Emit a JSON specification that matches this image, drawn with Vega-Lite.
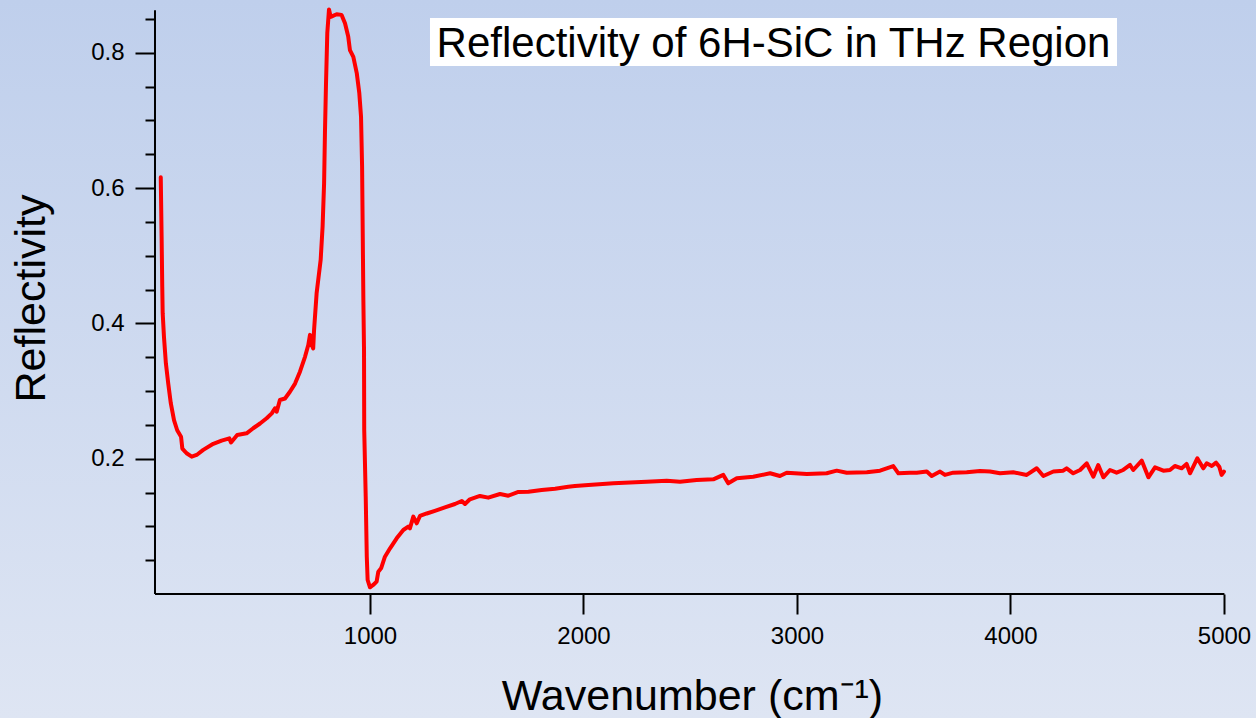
{
  "$schema": "https://vega.github.io/schema/vega-lite/v6.json",
  "width": 1256,
  "height": 718,
  "autosize": {"type": "none"},
  "padding": 0,
  "background": "#d0dbf0",
  "config": {
    "font": "Liberation Sans",
    "view": {
      "stroke": null,
      "fill": {
        "gradient": "linear",
        "x1": 0, "y1": 0, "x2": 0, "y2": 1,
        "stops": [
          {"offset": 0, "color": "#bfcfec"},
          {"offset": 1, "color": "#dee5f3"}
        ]
      }
    }
  },
  "datasets": {
    "spectrum": [
      {"w": 20, "r": 0.616}, {"w": 24, "r": 0.528}, {"w": 27, "r": 0.454}, {"w": 29, "r": 0.415},
      {"w": 35, "r": 0.38}, {"w": 44, "r": 0.341}, {"w": 55, "r": 0.311}, {"w": 67, "r": 0.282},
      {"w": 82, "r": 0.257}, {"w": 97, "r": 0.242}, {"w": 115, "r": 0.2325}, {"w": 121, "r": 0.215},
      {"w": 141, "r": 0.208}, {"w": 165, "r": 0.203}, {"w": 188, "r": 0.2055}, {"w": 219, "r": 0.213},
      {"w": 266, "r": 0.222}, {"w": 305, "r": 0.2267}, {"w": 341, "r": 0.23}, {"w": 349, "r": 0.224},
      {"w": 378, "r": 0.235}, {"w": 422, "r": 0.2375}, {"w": 453, "r": 0.245}, {"w": 485, "r": 0.252},
      {"w": 516, "r": 0.2597}, {"w": 540, "r": 0.267}, {"w": 555, "r": 0.2745}, {"w": 563, "r": 0.2695},
      {"w": 578, "r": 0.2868}, {"w": 602, "r": 0.289}, {"w": 625, "r": 0.299}, {"w": 649, "r": 0.311},
      {"w": 672, "r": 0.3286}, {"w": 696, "r": 0.351}, {"w": 711, "r": 0.368}, {"w": 719, "r": 0.383},
      {"w": 727, "r": 0.368}, {"w": 734, "r": 0.363}, {"w": 738, "r": 0.39}, {"w": 750, "r": 0.4445},
      {"w": 769, "r": 0.494}, {"w": 778, "r": 0.543}, {"w": 785, "r": 0.607}, {"w": 789, "r": 0.681},
      {"w": 794, "r": 0.755}, {"w": 800, "r": 0.829}, {"w": 808, "r": 0.864}, {"w": 816, "r": 0.853},
      {"w": 844, "r": 0.857}, {"w": 867, "r": 0.856}, {"w": 883, "r": 0.8436}, {"w": 898, "r": 0.824},
      {"w": 906, "r": 0.804}, {"w": 922, "r": 0.794}, {"w": 938, "r": 0.77}, {"w": 950, "r": 0.74},
      {"w": 958, "r": 0.7056}, {"w": 963, "r": 0.632}, {"w": 966, "r": 0.533}, {"w": 969, "r": 0.4346},
      {"w": 972, "r": 0.3607}, {"w": 973, "r": 0.2424}, {"w": 980, "r": 0.1438}, {"w": 985, "r": 0.0551},
      {"w": 989, "r": 0.0207}, {"w": 1000, "r": 0.0099}, {"w": 1015, "r": 0.0133}, {"w": 1031, "r": 0.0182},
      {"w": 1039, "r": 0.033}, {"w": 1052, "r": 0.038}, {"w": 1070, "r": 0.0551}, {"w": 1094, "r": 0.0675},
      {"w": 1125, "r": 0.0823}, {"w": 1156, "r": 0.0946}, {"w": 1179, "r": 0.0995}, {"w": 1187, "r": 0.097},
      {"w": 1203, "r": 0.1143}, {"w": 1219, "r": 0.1045}, {"w": 1234, "r": 0.1153}, {"w": 1266, "r": 0.119},
      {"w": 1304, "r": 0.123}, {"w": 1351, "r": 0.128}, {"w": 1398, "r": 0.133}, {"w": 1430, "r": 0.1375},
      {"w": 1445, "r": 0.133}, {"w": 1468, "r": 0.14}, {"w": 1515, "r": 0.1449}, {"w": 1554, "r": 0.1424},
      {"w": 1609, "r": 0.1478}, {"w": 1648, "r": 0.1453}, {"w": 1695, "r": 0.1508}, {"w": 1742, "r": 0.1512},
      {"w": 1804, "r": 0.1537}, {"w": 1867, "r": 0.1557}, {"w": 1929, "r": 0.1586}, {"w": 1960, "r": 0.1596},
      {"w": 2023, "r": 0.161}, {"w": 2140, "r": 0.1636}, {"w": 2296, "r": 0.166}, {"w": 2390, "r": 0.1675},
      {"w": 2452, "r": 0.166}, {"w": 2530, "r": 0.1685}, {"w": 2608, "r": 0.1695}, {"w": 2655, "r": 0.176},
      {"w": 2678, "r": 0.1636}, {"w": 2718, "r": 0.171}, {"w": 2795, "r": 0.1734}, {"w": 2874, "r": 0.1784},
      {"w": 2920, "r": 0.1744}, {"w": 2952, "r": 0.1793}, {"w": 3046, "r": 0.1774}, {"w": 3139, "r": 0.1784},
      {"w": 3186, "r": 0.1823}, {"w": 3233, "r": 0.1793}, {"w": 3327, "r": 0.18}, {"w": 3389, "r": 0.1823},
      {"w": 3451, "r": 0.189}, {"w": 3475, "r": 0.1784}, {"w": 3529, "r": 0.1793}, {"w": 3561, "r": 0.1793},
      {"w": 3608, "r": 0.181}, {"w": 3631, "r": 0.1744}, {"w": 3670, "r": 0.181}, {"w": 3693, "r": 0.176},
      {"w": 3732, "r": 0.1793}, {"w": 3795, "r": 0.18}, {"w": 3857, "r": 0.1818}, {"w": 3904, "r": 0.181},
      {"w": 3951, "r": 0.1784}, {"w": 4013, "r": 0.18}, {"w": 4076, "r": 0.176}, {"w": 4123, "r": 0.1858},
      {"w": 4154, "r": 0.1744}, {"w": 4201, "r": 0.181}, {"w": 4247, "r": 0.1823}, {"w": 4263, "r": 0.1858},
      {"w": 4294, "r": 0.1784}, {"w": 4326, "r": 0.1833}, {"w": 4357, "r": 0.1932}, {"w": 4388, "r": 0.1734},
      {"w": 4411, "r": 0.1907}, {"w": 4435, "r": 0.1725}, {"w": 4466, "r": 0.1833}, {"w": 4497, "r": 0.1793},
      {"w": 4528, "r": 0.1833}, {"w": 4560, "r": 0.1907}, {"w": 4575, "r": 0.1833}, {"w": 4615, "r": 0.197},
      {"w": 4646, "r": 0.1725}, {"w": 4677, "r": 0.1873}, {"w": 4716, "r": 0.1823}, {"w": 4747, "r": 0.1833},
      {"w": 4770, "r": 0.1892}, {"w": 4802, "r": 0.1858}, {"w": 4825, "r": 0.1922}, {"w": 4841, "r": 0.1784},
      {"w": 4875, "r": 0.2006}, {"w": 4903, "r": 0.1858}, {"w": 4919, "r": 0.1932}, {"w": 4943, "r": 0.1892},
      {"w": 4963, "r": 0.1941}, {"w": 4978, "r": 0.1882}, {"w": 4989, "r": 0.176}, {"w": 5000, "r": 0.181}
    ]
  },
  "resolve": {"axis": {"y": "independent"}},
  "layer": [
    {
      "data": {"name": "spectrum"},
      "mark": {"type": "line", "color": "#ff0000", "strokeWidth": 4, "strokeJoin": "round", "strokeCap": "round"},
      "encoding": {
        "x": {"field": "w", "type": "quantitative", "scale": {"domain": [-733, 5150], "nice": false, "zero": false},
          "axis": {"orient": "bottom", "offset": -124, "domain": false, "grid": false,
            "values": [1000, 2000, 3000, 4000, 5000], "format": "d", "labelFlush": false,
            "tickSize": 20, "tickWidth": 2, "tickColor": "black",
            "labelFont": "Liberation Sans", "labelFontSize": 24, "labelColor": "black", "labelPadding": 10,
            "title": "Wavenumber (cm⁻¹)", "titleFont": "Liberation Sans", "titleFontSize": 43, "titleFontWeight": "normal", "titleColor": "black",
            "titleX": 692, "titleY": 115, "titleBaseline": "alphabetic", "titleAlign": "center"}},
        "y": {"field": "r", "type": "quantitative", "scale": {"domain": [-0.1833, 0.878], "nice": false, "zero": false},
          "axis": {"orient": "left", "offset": -155, "domain": false, "grid": false,
            "values": [0.2, 0.4, 0.6, 0.8], "format": ".1f", "labelFlush": false,
            "tickSize": 20, "tickWidth": 2, "tickColor": "black",
            "labelFont": "Liberation Sans", "labelFontSize": 24, "labelColor": "black", "labelPadding": 11,
            "title": "Reflectivity", "titleFont": "Liberation Sans", "titleFontSize": 43, "titleFontWeight": "normal", "titleColor": "black",
            "titleAngle": 270, "titleX": -111, "titleY": 298, "titleBaseline": "alphabetic", "titleAlign": "center"}}
      }
    },
    {
      "data": {"values": [{}]},
      "mark": {"type": "rule", "color": "black", "strokeWidth": 2},
      "encoding": {
        "x": {"datum": -7, "type": "quantitative"},
        "y": {"datum": 0, "type": "quantitative",
          "axis": {"orient": "left", "offset": -155, "domain": false, "grid": false, "labels": false, "title": null,
            "values": [0.05, 0.1, 0.15, 0.25, 0.3, 0.35, 0.45, 0.5, 0.55, 0.65, 0.7, 0.75, 0.85],
            "tickSize": 10, "tickWidth": 2, "tickColor": "black"}},
        "y2": {"datum": 0.863}
      }
    },
    {
      "data": {"values": [{}]},
      "mark": {"type": "rule", "color": "black", "strokeWidth": 2},
      "encoding": {
        "x": {"datum": -7, "type": "quantitative"},
        "x2": {"datum": 5002},
        "y": {"datum": 0, "type": "quantitative", "axis": null}
      }
    },
    {
      "data": {"values": [{}]},
      "mark": {"type": "rect", "fill": "white"},
      "encoding": {
        "x": {"datum": 1281, "type": "quantitative"},
        "x2": {"datum": 4499},
        "y": {"datum": 0.8514, "type": "quantitative", "axis": null},
        "y2": {"datum": 0.7805}
      }
    },
    {
      "data": {"values": [{}]},
      "mark": {"type": "text", "text": "Reflectivity of 6H-SiC in THz Region", "font": "Liberation Sans", "fontSize": 42, "align": "center", "baseline": "alphabetic", "color": "black"},
      "encoding": {
        "x": {"datum": 2890, "type": "quantitative"},
        "y": {"datum": 0.7938, "type": "quantitative", "axis": null}
      }
    }
  ]
}
